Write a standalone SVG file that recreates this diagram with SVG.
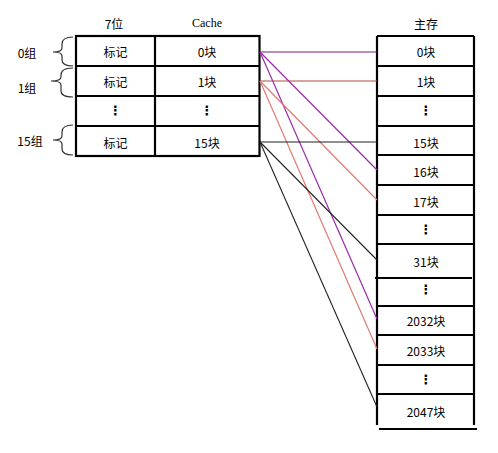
<svg xmlns="http://www.w3.org/2000/svg" width="498" height="453" viewBox="0 0 498 453">
<style>
text{font-family:"Liberation Serif","Noto Sans CJK SC",serif;font-size:12px;fill:#000;text-anchor:middle;dominant-baseline:central}
.t{font-family:"Noto Sans CJK SC","Liberation Sans",sans-serif}
.dots{font-weight:bold;font-family:"DejaVu Sans",sans-serif;font-size:13px}
.box{fill:none;stroke:#000;stroke-width:2.2}
.brace{fill:none;stroke:#333;stroke-width:1.2}
.p1{stroke:#7a1a7a;stroke-width:1.1}
.p2{stroke:#9a2aa8;stroke-width:1.2}
.r1{stroke:#b04a44;stroke-width:1.1}
.r2{stroke:#e07a72;stroke-width:1.2}
.k{stroke:#222;stroke-width:1.1}
</style>
<rect width="498" height="453" fill="#fff"/>
<g id="headers">
<text x="114" y="23" class="t">7位</text>
<text x="207" y="23">Cache</text>
<text x="426" y="23" class="t">主存</text>
</g>
<g id="groups">
<text x="27" y="52" class="t">0组</text>
<path class="brace" d="M73,37 Q62,37 62,44 L62,48 Q62,52 53,52 Q62,52 62,56 L62,60 Q62,66 73,66"/>
<text x="27" y="87" class="t">1组</text>
<path class="brace" d="M73,68 Q61,68 61,75 L61,77 Q61,81 51,81 Q61,81 61,85 L61,91 Q61,97 73,97"/>
<text x="30" y="140" class="t">15组</text>
<path class="brace" d="M73,125 Q62,125 62,132 L62,136 Q62,140 53,140 Q62,140 62,144 L62,149 Q62,155 73,155"/>
</g>
<g id="cache">
<rect class="box" x="76" y="36" width="183.5" height="120"/>
<path class="box" d="M155,36V156M76,66H259.5M76,96H259.5M76,126H259.5"/>
<text x="115.5" y="51" class="t">标记</text>
<text x="207" y="51" class="t">0块</text>
<text x="115.5" y="81" class="t">标记</text>
<text x="207" y="81" class="t">1块</text>
<text x="115.5" y="110" class="dots">⋮</text>
<text x="207" y="110" class="dots">⋮</text>
<text x="115.5" y="142" class="t">标记</text>
<text x="207" y="142" class="t">15块</text>
</g>
<g id="memory">
<path class="box" d="M377,36V425M474,36V425M377,36H474M377,66H474M377,96H474M377,126H474M377,155H474M377,185H474M377,215H474M377,244H474M375,278H472M377,306H474M377,335H474M377,365H474M377,394H474M379,429H477"/>
<text x="426" y="51" class="t">0块</text>
<text x="426" y="81" class="t">1块</text>
<text x="426" y="110" class="dots">⋮</text>
<text x="426" y="142" class="t">15块</text>
<text x="426" y="171" class="t">16块</text>
<text x="426" y="201" class="t">17块</text>
<text x="426" y="229" class="dots">⋮</text>
<text x="426" y="261" class="t">31块</text>
<text x="426" y="289" class="dots">⋮</text>
<text x="426" y="320" class="t">2032块</text>
<text x="426" y="350" class="t">2033块</text>
<text x="426" y="379" class="dots">⋮</text>
<text x="426" y="411" class="t">2047块</text>
</g>
<g id="connectors">
<line class="p1" x1="260" y1="52" x2="377" y2="52"/>
<line class="p2" x1="260" y1="52" x2="377" y2="170"/>
<line class="p2" x1="260" y1="52" x2="377" y2="319"/>
<line class="r1" x1="260" y1="81" x2="377" y2="81"/>
<line class="r2" x1="260" y1="81" x2="377" y2="200"/>
<line class="r2" x1="260" y1="81" x2="377" y2="349"/>
<line class="k" x1="260" y1="142" x2="377" y2="142"/>
<line class="k" x1="260" y1="142" x2="377" y2="260"/>
<line class="k" x1="260" y1="142" x2="377" y2="407"/>
</g>
</svg>
